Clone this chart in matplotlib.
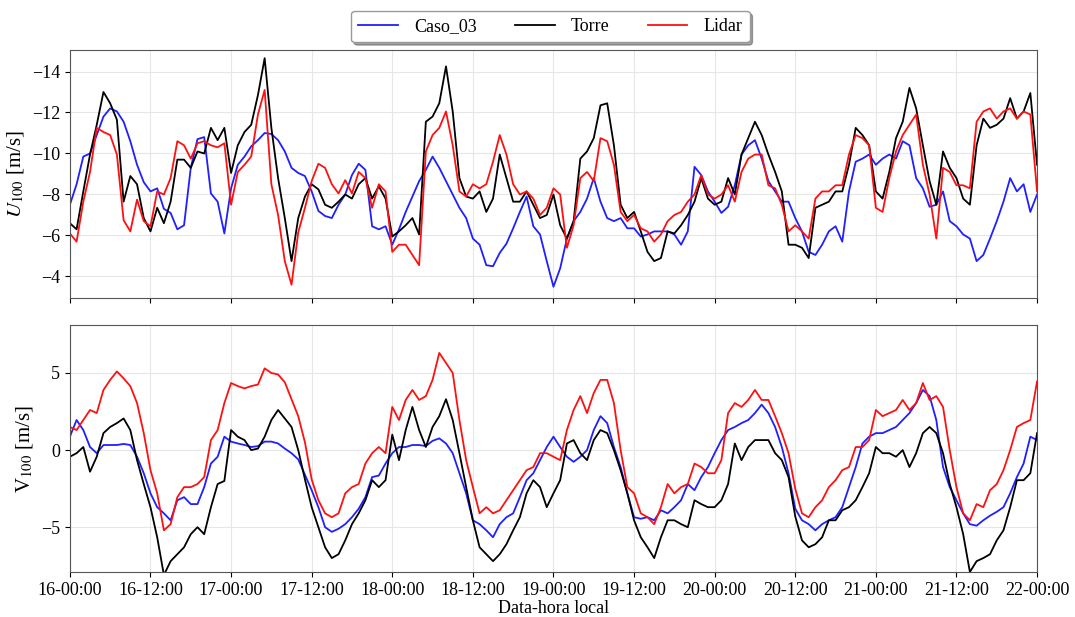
import numpy as np
import pandas as pd
import matplotlib
matplotlib.use("Agg")
import matplotlib.pyplot as plt
import matplotlib.dates as mdates

plt.rcParams['font.family'] = ['Liberation Serif', 'DejaVu Serif']
plt.rcParams['mathtext.fontset'] = 'stix'

# hourly values, 16-00:00 .. 22-00:00
times = pd.date_range('2021-07-16 00:00', '2021-07-22 00:00', freq='h')

caso_u = [-7.5, -8.5, -9.85, -10.0, -10.9, -11.8, -12.2, -12.05, -11.55, -10.6,
          -9.45, -8.6, -8.15, -8.3, -7.3, -7.1, -6.3, -6.5, -9.3, -10.7,
          -10.8, -8.05, -7.65, -6.1, -8.3, -9.45, -9.85, -10.35, -10.65, -11.0,
          -10.95, -10.65, -10.1, -9.3, -9.05, -8.9, -8.15, -7.2, -6.95, -6.85,
          -7.5, -8.0, -8.95, -9.5, -9.2, -6.45, -6.3, -6.45, -5.55, -6.3,
          -7.15, -7.9, -8.65, -9.2, -9.85, -9.3, -8.65, -8.0, -7.35, -6.85,
          -5.85, -5.55, -4.55, -4.5, -5.15, -5.6, -6.35, -7.15, -7.9, -6.45,
          -6.05, -4.75, -3.5, -4.4, -5.85, -6.7, -7.15, -7.8, -8.8, -7.65,
          -6.85, -6.7, -6.85, -6.35, -6.35, -5.95, -6.05, -6.2, -6.2, -6.2,
          -6.05, -5.55, -6.2, -9.35, -8.95, -8.15, -7.65, -7.1, -7.4, -8.45,
          -9.95, -10.4, -10.65, -9.75, -8.65, -8.15, -7.65, -7.65, -6.85, -6.2,
          -5.2, -5.05, -5.55, -6.2, -6.45, -5.7, -8.15, -9.6, -9.75, -9.95,
          -9.45, -9.75, -9.95, -9.75, -10.6, -10.4, -8.8, -8.3, -7.4, -7.5,
          -8.15, -6.7, -6.45, -6.05, -5.85, -4.75, -5.05, -5.85, -6.7, -7.65,
          -8.8, -8.15, -8.5, -7.15, -8.0]

torre_u = [-6.6, -6.3, -8.15, -9.95, -11.4, -13.0, -12.45, -11.65, -7.65, -8.9,
           -8.5, -6.85, -6.2, -7.35, -6.6, -7.65, -9.7, -9.7, -9.3, -10.1,
           -10.0, -11.25, -10.65, -11.25, -9.05, -10.4, -11.05, -11.4, -12.85, -14.65,
           -11.25, -8.8, -6.85, -4.75, -6.85, -7.9, -8.5, -8.25, -7.5, -7.35,
           -7.65, -8.0, -7.8, -8.5, -8.8, -7.8, -8.4, -7.8, -5.95, -6.2,
           -6.5, -6.85, -6.05, -11.55, -11.8, -12.45, -14.25, -12.05, -8.8, -7.9,
           -7.8, -8.15, -7.15, -7.8, -9.95, -8.8, -7.65, -7.65, -8.15, -7.5,
           -6.85, -7.0, -8.0, -6.5, -5.85, -6.7, -9.75, -10.1, -10.75, -12.35,
           -12.45, -10.4, -7.5, -6.85, -7.15, -6.2, -5.2, -4.75, -4.9, -6.2,
           -6.1, -6.5, -7.0, -7.65, -8.8, -7.8, -7.5, -7.65, -8.8, -8.0,
           -9.95, -10.75, -11.55, -10.9, -9.95, -9.1, -8.15, -5.55, -5.55, -5.4,
           -4.9, -7.35, -7.5, -7.65, -8.15, -8.15, -9.45, -11.25, -10.9, -10.4,
           -8.15, -7.8, -9.1, -10.75, -11.55, -13.2, -12.2, -10.4, -8.65, -7.5,
           -10.1, -9.3, -8.8, -7.8, -7.5, -10.4, -11.7, -11.25, -11.4, -11.7,
           -12.7, -11.7, -12.05, -12.95, -9.45]

lidar_u = [-6.1, -5.7, -7.65, -9.1, -11.25, -11.05, -10.9, -9.95, -6.75, -6.2,
           -7.75, -6.7, -6.45, -8.15, -8.0, -8.8, -10.6, -10.4, -9.75, -10.5,
           -10.6, -10.4, -10.3, -10.5, -7.5, -9.1, -9.45, -9.85, -11.9, -13.1,
           -8.5, -7.0, -4.75, -3.6, -6.15, -7.35, -8.65, -9.5, -9.3, -8.5,
           -8.05, -8.7, -8.05, -9.1, -8.8, -7.35, -8.5, -8.15, -5.2, -5.55,
           -5.55, -5.05, -4.55, -10.1, -10.9, -11.25, -12.05, -10.4, -8.15, -7.9,
           -8.5, -8.3, -8.5, -9.6, -10.9, -9.95, -8.5, -8.0, -8.15, -7.8,
           -7.0, -7.35, -8.3, -8.0, -5.4, -6.5, -8.8, -9.1, -8.65, -10.75,
           -10.6, -9.45, -7.15, -6.7, -7.0, -6.35, -6.2, -5.7, -6.05, -6.7,
           -7.0, -7.15, -7.65, -8.0, -8.95, -8.0, -7.8, -8.0, -8.45, -7.65,
           -9.1, -9.75, -9.95, -9.95, -8.45, -8.3, -7.5, -6.2, -6.5, -6.2,
           -5.85, -7.8, -8.15, -8.15, -8.45, -8.45, -9.95, -10.9, -10.75, -10.4,
           -7.35, -7.15, -8.8, -10.1, -10.9, -11.4, -11.9, -9.45, -8.0, -5.85,
           -9.3, -9.1, -8.45, -8.45, -8.3, -11.55, -12.05, -12.2, -11.7, -12.05,
           -12.2, -11.7, -12.05, -11.9, -8.15]

caso_v = [0.87, 1.95, 1.3, 0.2, -0.2, 0.33, 0.33, 0.33, 0.4, 0.33,
          -0.43, -1.5, -2.8, -3.7, -4.1, -4.55, -3.25, -3.05, -3.5, -3.5,
          -2.4, -0.87, -0.43, 0.87, 0.55, 0.43, 0.33, 0.2, 0.26, 0.55,
          0.55, 0.43, 0.1, -0.2, -0.6, -1.6, -2.6, -3.7, -5.0, -5.3,
          -5.1, -4.8, -4.35, -3.8, -3.05, -1.75, -1.65, -0.87, -0.2, 0.2,
          0.2, 0.33, 0.33, 0.26, 0.6, 0.76, 0.43, -0.2, -1.5, -2.8,
          -4.55, -4.8, -5.2, -5.65, -4.8, -4.35, -4.1, -3.05, -1.95, -1.5,
          -0.65, 0.2, 0.87, 0.2, -0.43, -0.76, -0.43, 0.0, 1.3, 2.2,
          1.75, 0.2, -1.1, -2.8, -4.35, -4.45, -4.35, -4.55, -3.9, -4.1,
          -3.7, -3.25, -2.2, -2.6, -1.75, -1.1, -0.2, 0.65, 1.3, 1.5,
          1.75, 1.95, 2.4, 2.95, 2.4, 1.5, 0.2, -1.5, -3.8, -4.55,
          -4.8, -5.2, -4.8, -4.55, -4.35, -3.7, -2.4, -1.1, 0.43, 0.87,
          1.1, 1.1, 1.3, 1.5, 1.95, 2.4, 3.05, 3.9, 3.5, 1.95,
          -1.1, -2.4, -3.25, -4.1, -4.8, -4.9, -4.55, -4.25, -4.0, -3.7,
          -2.8, -1.75, -0.87, 0.87, 0.65]

torre_v = [-0.43, -0.2, 0.2, -1.4, -0.43, 1.1, 1.5, 1.75, 2.05, 1.3,
           -0.65, -2.2, -3.7, -5.65, -8.1, -7.2, -6.75, -6.3, -5.45, -5.0,
           -5.45, -3.7, -2.2, -2.0, 1.3, 0.87, 0.65, 0.0, 0.1, 0.87,
           1.95, 2.6, 2.05, 1.5, 0.0, -1.9, -3.7, -5.0, -6.3, -7.0,
           -6.75, -5.85, -4.8, -4.1, -3.25, -1.95, -2.4, -1.95, 1.0, -0.65,
           1.3, 2.8, 1.3, 0.2, 1.5, 2.2, 3.3, 1.95, -0.2, -2.4,
           -4.55, -6.3, -6.75, -7.2, -6.75, -6.1, -5.2, -4.35, -2.8, -1.95,
           -2.4, -3.7, -2.8, -1.95, 0.43, 0.65, -0.2, -0.65, 0.65, 1.3,
           1.1, 0.0, -1.3, -2.8, -4.55, -5.65, -6.3, -7.0, -5.65, -4.55,
           -4.55, -4.8, -5.0, -3.25, -3.5, -3.7, -3.7, -3.25, -2.2, 0.43,
           -0.65, 0.2, 0.65, 0.65, 0.65, -0.2, -0.65, -1.75, -4.3, -5.85,
           -6.3, -6.1, -5.65, -4.55, -4.55, -3.9, -3.7, -3.25, -2.4, -1.5,
           0.2, -0.2, -0.2, -0.43, 0.0, -1.1, -0.2, 1.1, 1.5, 1.1,
           -0.2, -2.2, -3.7, -5.45, -7.9, -7.2, -7.0, -6.75, -5.85, -5.2,
           -3.7, -1.95, -1.95, -1.5, 1.1]

lidar_v = [1.5, 1.3, 1.95, 2.6, 2.4, 3.9, 4.55, 5.1, 4.65, 4.15,
           3.05, 1.1, -1.3, -2.8, -5.2, -4.8, -3.05, -2.4, -2.4, -2.2,
           -1.75, 0.65, 1.3, 3.05, 4.35, 4.15, 4.0, 4.15, 4.25, 5.3,
           5.0, 4.9, 4.4, 3.3, 2.2, 0.5, -1.9, -3.25, -4.1, -4.35,
           -4.1, -2.8, -2.4, -2.2, -0.87, -0.2, 0.2, -0.2, 2.8, 1.95,
           3.25, 3.9, 3.25, 3.5, 4.55, 6.3, 5.65, 5.0, 1.95, -0.65,
           -2.4, -4.1, -3.7, -4.1, -3.9, -3.25, -2.6, -1.95, -1.3, -1.1,
           -0.2, -0.2, -0.43, -0.65, 1.3, 2.6, 3.5, 2.4, 3.7, 4.55,
           4.55, 3.05, 0.0, -2.4, -2.8, -4.1, -4.35, -4.8, -3.7, -2.2,
           -2.8, -2.4, -2.2, -0.87, -1.1, -1.5, -1.5, -0.65, 2.4, 3.05,
           2.8, 3.25, 3.9, 3.25, 3.25, 2.2, 1.1, -0.2, -2.5, -4.1,
           -4.35, -3.7, -3.25, -2.4, -1.95, -1.3, -1.1, 0.2, 0.2, 0.65,
           2.6, 2.2, 2.4, 2.6, 3.25, 2.6, 3.05, 4.35, 3.25, 3.5,
           2.8, 0.0, -2.4, -4.1, -4.55, -3.5, -3.7, -2.6, -2.2, -1.3,
           0.0, 1.5, 1.75, 1.95, 4.45]

fig = plt.figure(figsize=(10.75, 6.17), dpi=100)
ax1 = fig.add_axes([0.065, 0.517, 0.8997, 0.402])
ax2 = fig.add_axes([0.065, 0.073, 0.8997, 0.400], sharex=ax1)

for ax, c, t, l in [(ax1, caso_u, torre_u, lidar_u), (ax2, caso_v, torre_v, lidar_v)]:
    ax.plot(times, c, color='#1f1fff', lw=1.3, label='Caso_03')
    ax.plot(times, t, color='black', lw=1.3, label='Torre')
    ax.plot(times, l, color='#ff1010', lw=1.3, label='Lidar')
    ax.grid(True, color='#e6e6e6', lw=0.8)
    ax.tick_params(labelsize=13)
    for s in ax.spines.values():
        s.set_color('#555555')

ax1.set_ylim(-2.95, -15.05)
ax1.set_yticks([-14, -12, -10, -8, -6, -4])
ax1.set_ylabel('$U_{100}$ [m/s]', fontsize=15)
ax1.tick_params(labelbottom=False)

ax2.set_ylim(-7.9, 8.1)
ax2.set_yticks([-5, 0, 5])
ax2.set_ylabel('V$_{100}$ [m/s]', fontsize=15)
ax2.set_xlim(times[0], times[-1])
ax2.xaxis.set_major_locator(mdates.HourLocator(byhour=[0, 12]))
ax2.xaxis.set_major_formatter(mdates.DateFormatter('%d-%H:%M'))
ax2.set_xlabel('Data-hora local', fontsize=13, labelpad=1)

ax1.legend(loc='center', bbox_to_anchor=(0.512, 0.957), bbox_transform=fig.transFigure,
           ncol=3, fontsize=13, shadow=True, handlelength=2.2, handletextpad=0.9,
           columnspacing=2.1, framealpha=1, edgecolor='#999999')

fig.savefig('out.png', dpi=100)
